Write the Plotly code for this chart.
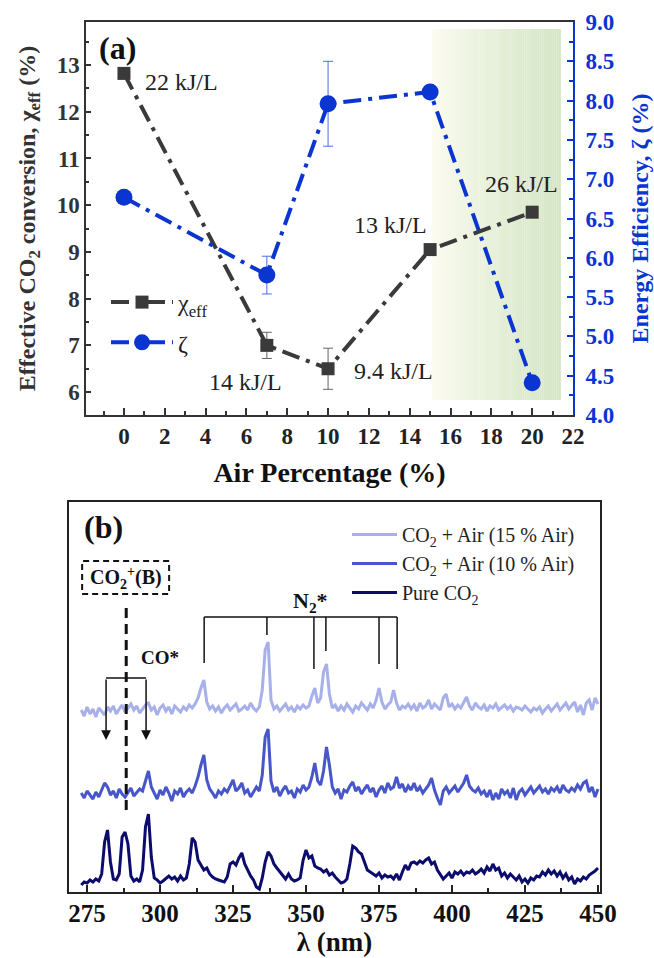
import plotly.graph_objects as go

FONT = "Liberation Serif, Times New Roman, serif"
BLUE = "#0a35d0"
DARK = "#3a3a3a"

# ---------------- panel (a) data ----------------
air_pct = [0, 7, 10, 15, 20]
chi_eff = [12.82, 7.00, 6.50, 9.05, 9.85]
chi_err = [0, 0.28, 0.44, 0, 0]
zeta = [6.77, 5.78, 7.96, 8.11, 4.41]
zeta_err = [0, 0.24, 0.54, 0, 0]
sei_labels = ["22 kJ/L", "14 kJ/L", "9.4 kJ/L", "13 kJ/L", "26 kJ/L"]
sei_shift = [(19, -9), (-60, -37), (24, -2), (-78, 25), (-49, 28)]  # label offsets (px)
band_x = [15.1, 21.4]
band_y = [5.83, 13.77]

# ---------------- panel (b) data ----------------
wavelength = list(range(273, 451))
pure_co2 = [
    -3, 0, -1, 2, 0, 3, 1, 8, 40, 52, 20, 3, 2, 8, 45, 50, 38, 6, 1, 3,      # 273-292
    0, 12, 55, 68, 25, 4, 2, -1, 1, 4, 6, 3, 5, 1, 6, 2, 4, 18, 44, 40,      # 293-312
    22, 17, 12, 14, 8, 5, 3, 2, 1, 0, 5, 18, 20, 17, 24, 29, 18, 12, 6, 2,   # 313-332
    -5, -7, 4, 20, 30, 26, 18, 14, 10, 6, 3, 8, 3, 1, 2, 4, 22, 32, 24, 26,  # 333-352
    16, 14, 13, 10, 12, 7, 9, 5, 2, -1, 0, 3, 18, 36, 34, 30, 28, 20, 12, 10,  # 353-372
    8, 6, 9, 4, 7, 5, 6, 3, 8, 2, 10, 17, 12, 19, 20, 18, 21, 19, 22, 24,    # 373-392
    18, 20, 12, 8, 3, 6, 9, 4, 10, 8, 11, 7, 10, 9, 12, 8, 10, 13, 9, 15,    # 393-412
    11, 18, 12, 14, 6, 9, 4, 8, 5, 2, 6, 0, 3, -1, 4, 2, 6, 5, 10, 7,        # 413-432
    12, 8, 11, 6, 10, 4, 8, 2, 5, -2, 3, 1, 5, 3, 7, 9, 11, 14,              # 433-450
]
air10 = [
    2, -3, 4, 0, -4, 3, -2, 5, 12, 8, 0, 4, -3, 6, 1, -2, 3, 7, -1, 2,       # 273-292
    6, 4, 14, 24, 8, 2, -4, 5, 0, 8, 2, -6, 4, 1, 7, -2, 3, 6, 2, 9,         # 293-312
    18, 30, 40, 15, 6, 2, -3, 4, 1, 6, 3, 9, 15, 4, 7, 12, 2, 5, -2, 3,      # 313-332
    8, 4, 20, 58, 66, 14, 3, 8, -1, 5, 9, 2, 4, -3, 6, 3, 10, 5, 8, 18,      # 333-352
    32, 14, 10, 24, 48, 30, 8, 2, 6, -4, 5, 3, 9, 13, 4, 8, 1, 6, 10, 3,     # 353-372
    7, -2, 5, 9, 2, 12, 6, 8, 18, 7, 11, 3, 9, 5, 12, 4, 8, 2, 6, 10,        # 373-392
    17, 5, -3, -10, 4, 8, 2, 6, 9, 3, 7, 12, 20, 9, 5, 3, 7, 1, 4, -2,       # 393-412
    5, -5, 2, -4, 6, 1, 4, -3, 7, -5, 3, 6, 0, 4, 8, 2, 5, 9, 3, 6,          # 413-432
    1, 7, 4, 8, 2, 10, 5, 3, 7, 4, 10, 6, 12, 14, 3, 8, -2, 6,               # 433-450
]
air15 = [
    2, -4, 5, -2, 3, -5, 4, 0, -3, 5, 1, 6, -2, 3, 7, 0, 4, 8, 2, 6,         # 273-292
    -1, 3, 7, 9, 2, 5, -3, 4, 7, 1, 5, -2, 6, 3, 0, 5, 2, 7, 4, 8,           # 293-312
    14, 24, 32, 10, 3, 6, 1, 5, -1, 4, 7, 2, 5, 8, 1, 3, 6, 2, 9, 4,         # 313-332
    1, 5, 22, 62, 70, 12, 3, 6, 1, 4, 8, 2, 5, 0, 6, 3, 7, 4, 6, 16,         # 333-352
    24, 9, 14, 40, 48, 18, 4, 7, 1, 6, 2, 8, 4, 0, 6, 3, 9, 5, 2, 8,         # 353-372
    4, 12, 24, 10, 3, 7, 10, 22, 9, 2, 6, 4, 8, 3, 7, 1, 9, 4, 6, 12,        # 373-392
    3, 8, 5, 2, 14, 18, 5, 8, 3, 7, 4, 10, 15, 6, 2, 9, 5, 3, 7, 1,          # 393-412
    6, 4, 8, 2, 5, 7, 3, 6, 1, 5, 4, 2, 6, 3, 0, 4, 2, 5, -1, 3,             # 413-432
    6, 1, 4, 8, 2, 5, 9, 3, 6, 10, 0, 7, -3, 9, 12, 2, 14, 8,                # 433-450
]
spectra_names = ["CO<sub>2</sub> + Air (15 % Air)", "CO<sub>2</sub> + Air (10 % Air)", "Pure CO<sub>2</sub>"]
spectra_values = [air15, air10, pure_co2]
spectra_offsets = [180, 97, 10]
spectra_colors = ["#a7b0e8", "#4757c9", "#0c0c6c"]

co2p_box_x = [273.3, 303.1]
co2p_box_y = [298, 331]
co2p_line_nm = 288.4
co2p_line_y = [82, 289]
co_star_nm = [281.5, 295.2]
co_star_y = [214, 152]
n2_nm = [315.1, 336.6, 352.7, 356.8, 375.0, 381.2]
n2_bottom = [229, 257, 223, 241, 228, 223]
n2_top = 275

fig = go.Figure()

# shaded band (gradient)
n_strips = 60
c0 = (253, 252, 242)
c1 = (212, 229, 196)
w = (band_x[1] - band_x[0]) / n_strips
for i in range(n_strips):
    t = (i + 0.5) / n_strips
    t = t ** 0.8
    col = tuple(round(c0[k] + (c1[k] - c0[k]) * t) for k in range(3))
    fig.add_shape(type="rect", xref="x", yref="y",
                  x0=band_x[0] + i * w, x1=band_x[0] + (i + 1) * w + w * 0.05,
                  y0=band_y[0], y1=band_y[1], fillcolor="rgb(%d,%d,%d)" % col,
                  line=dict(width=0), layer="below")

fig.add_trace(go.Scatter(
    x=air_pct, y=chi_eff, name="χ<sub>eff</sub>", xaxis="x", yaxis="y",
    mode="lines+markers", legend="legend", legendgroup="a1",
    line=dict(color=DARK, width=4, dash="18px,7px,4px,7px"),
    marker=dict(symbol="square", size=13, color=DARK),
    error_y=dict(type="data", array=chi_err, visible=True, color="#666", thickness=1, width=5),
))
fig.add_trace(go.Scatter(
    x=air_pct, y=zeta, name="ζ", xaxis="x", yaxis="y2",
    mode="lines+markers", legend="legend", legendgroup="a2",
    line=dict(color=BLUE, width=4, dash="18px,7px,4px,7px"),
    marker=dict(symbol="circle", size=17, color=BLUE),
    error_y=dict(type="data", array=zeta_err, visible=True, color="#4a6cf0", thickness=1, width=5),
))

for name, vals, off, col, g in zip(spectra_names, spectra_values, spectra_offsets, spectra_colors, ["b1", "b2", "b3"]):
    fig.add_trace(go.Scatter(
        x=wavelength, y=[v + off for v in vals], name=name, xaxis="x3", yaxis="y3",
        mode="lines", line=dict(color=col, width=3), legend="legend2", legendgroup=g,
    ))

annotations = []
for lab, xv, yv, (dx, dy) in zip(sei_labels, air_pct, chi_eff, sei_shift):
    annotations.append(dict(x=xv, y=yv, xref="x", yref="y", text=lab, showarrow=False,
                            xanchor="left", yanchor="middle", xshift=dx, yshift=dy,
                            font=dict(family=FONT, size=24, color="#222")))
annotations.append(dict(x=97 / 654, y=1 - 48 / 958, xref="paper", yref="paper", text="<b>(a)</b>",
                        showarrow=False, xanchor="left", yanchor="middle",
                        font=dict(family=FONT, size=32, color="#111")))
annotations.append(dict(x=82 / 654, y=1 - 527 / 958, xref="paper", yref="paper", text="<b>(b)</b>",
                        showarrow=False, xanchor="left", yanchor="middle",
                        font=dict(family=FONT, size=32, color="#111")))
# panel (b) labels
annotations.append(dict(x=sum(co2p_box_x) / 2, y=sum(co2p_box_y) / 2, xref="x3", yref="y3",
                        text="<b>CO<sub>2</sub><sup>+</sup>(B)</b>", showarrow=False,
                        font=dict(family=FONT, size=20, color="#111")))
annotations.append(dict(x=300.0, y=235, xref="x3", yref="y3", text="<b>CO*</b>", showarrow=False,
                        font=dict(family=FONT, size=19, color="#111")))
annotations.append(dict(x=351.4, y=290, xref="x3", yref="y3", text="<b>N<sub>2</sub>*</b>", showarrow=False,
                        font=dict(family=FONT, size=22, color="#111")))
for nm in co_star_nm:
    annotations.append(dict(x=nm, y=co_star_y[1], ax=nm, ay=co_star_y[0], xref="x3", yref="y3",
                            axref="x3", ayref="y3", text="", showarrow=True, arrowhead=2,
                            arrowsize=1.3, arrowwidth=1.5, arrowcolor="#111"))

shapes = []
shapes.append(dict(type="rect", xref="x3", yref="y3", x0=co2p_box_x[0], x1=co2p_box_x[1],
                   y0=co2p_box_y[0], y1=co2p_box_y[1], line=dict(color="#111", width=2, dash="6px,4px")))
shapes.append(dict(type="line", xref="x3", yref="y3", x0=co2p_line_nm, x1=co2p_line_nm,
                   y0=co2p_line_y[0], y1=co2p_line_y[1], line=dict(color="#111", width=3, dash="10px,6px")))
shapes.append(dict(type="line", xref="x3", yref="y3", x0=co_star_nm[0], x1=co_star_nm[1],
                   y0=co_star_y[0], y1=co_star_y[0], line=dict(color="#111", width=1.5)))
shapes.append(dict(type="line", xref="x3", yref="y3", x0=n2_nm[0], x1=n2_nm[-1],
                   y0=n2_top, y1=n2_top, line=dict(color="#111", width=1.5)))
for nm, yb in zip(n2_nm, n2_bottom):
    shapes.append(dict(type="line", xref="x3", yref="y3", x0=nm, x1=nm, y0=yb, y1=n2_top,
                       line=dict(color="#111", width=1.5)))
for s in shapes:
    fig.add_shape(**s)

tick_bold = lambda size, color: dict(family=FONT, size=size, color=color, weight="bold")

fig.update_layout(
    width=654, height=958, margin=dict(l=0, r=0, t=0, b=0, autoexpand=False),
    paper_bgcolor="white", plot_bgcolor="rgba(0,0,0,0)",
    font=dict(family=FONT, color="#222"),
    annotations=annotations,
    xaxis=dict(domain=[86 / 654, 573 / 654], anchor="y", range=[-1.86, 22.0], automargin=False,
               tickmode="linear", tick0=0, dtick=2, ticks="inside", ticklen=7, tickwidth=1.5,
               tickcolor="#333", minor=dict(dtick=1, ticks="inside", ticklen=4, tickcolor="#333", tickwidth=1.5),
               showline=True, linecolor="#333", linewidth=1.5, mirror=True,
               showgrid=False, zeroline=False, tickfont=tick_bold(23, "#222"),
               ticklabelstandoff=0,
               title=dict(text="<b>Air Percentage (%)</b>", font=dict(family=FONT, size=28, color="#111"), standoff=14)),
    yaxis=dict(domain=[1 - 415 / 958, 1 - 22 / 958], anchor="x", range=[5.51, 13.92], automargin=False,
               tickmode="linear", tick0=0, dtick=1, ticks="inside", ticklen=5, tickwidth=1.5,
               tickcolor="#333", minor=dict(dtick=0.5, ticks="inside", ticklen=3, tickcolor="#333", tickwidth=1.5),
               showline=True, linecolor="#333", linewidth=1.5, showgrid=False, zeroline=False,
               tickfont=tick_bold(23, "#333"),
               title=dict(text="<b>Effective CO<sub>2</sub> conversion, χ<sub>eff</sub> (%)</b>",
                          font=dict(family=FONT, size=24, color="#333"), standoff=14)),
    yaxis2=dict(overlaying="y", side="right", anchor="x", range=[4, 9], automargin=False,
                tickmode="linear", tick0=0, dtick=0.5, tickformat=".1f", ticks="inside", ticklen=6,
                tickwidth=1.5, tickcolor=BLUE,
                minor=dict(dtick=0.25, ticks="inside", ticklen=4, tickcolor=BLUE, tickwidth=1.5),
                showline=True, linecolor=BLUE, linewidth=2, showgrid=False, zeroline=False,
                tickfont=tick_bold(23, BLUE), ticklabelstandoff=6,
                title=dict(text="<b>Energy Efficiency, ζ (%)</b>", font=dict(family=FONT, size=24, color=BLUE), standoff=18)),
    xaxis3=dict(domain=[69 / 654, 600 / 654], anchor="y3", range=[268.8, 450.7], automargin=False,
                tickmode="linear", tick0=275, dtick=25, ticks="inside", ticklen=7, tickwidth=1.5,
                tickcolor="#222", minor=dict(dtick=12.5, ticks="inside", ticklen=4, tickcolor="#222", tickwidth=1.5),
                showline=True, linecolor="#222", linewidth=1.5, mirror=True,
                showgrid=False, zeroline=False, tickfont=tick_bold(25, "#111"), ticklabelstandoff=-2,
                title=dict(text="<b>λ (nm)</b>", font=dict(family=FONT, size=27, color="#111"), standoff=6)),
    yaxis3=dict(domain=[1 - 892 / 958, 1 - 502 / 958], anchor="x3", range=[0, 390], automargin=False,
                showticklabels=False, ticks="", showline=True, linecolor="#222", linewidth=1.5,
                mirror=True, showgrid=False, zeroline=False),
    legend=dict(x=106 / 654, y=1 - 280 / 958, xanchor="left", yanchor="top", bgcolor="rgba(0,0,0,0)",
                font=dict(family=FONT, size=24, color="#222"), itemwidth=62, traceorder="grouped",
                tracegroupgap=6),
    legend2=dict(x=347 / 654, y=1 - 515 / 958, xanchor="left", yanchor="top", bgcolor="rgba(0,0,0,0)",
                 font=dict(family=FONT, size=20, color="#222"), itemwidth=45, traceorder="grouped",
                 tracegroupgap=0),
)

fig.write_html("out.html")
